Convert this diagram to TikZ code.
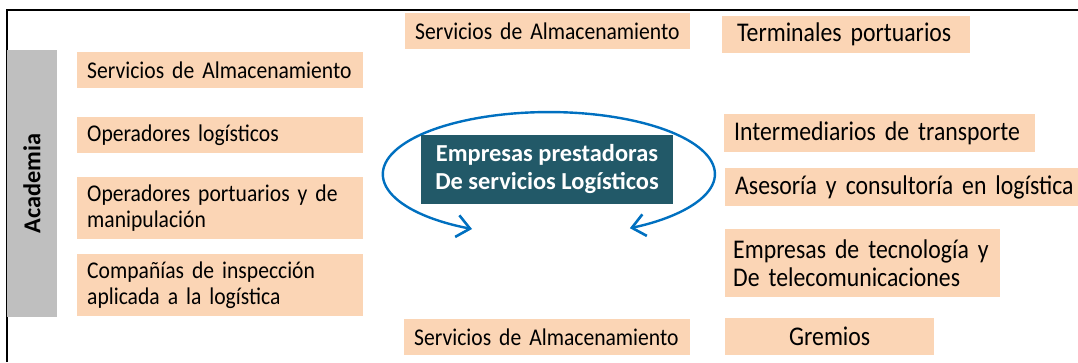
\documentclass[tikz,border=0pt]{standalone}
\usepackage{fontspec}
\setmainfont{Carlito}
\newfontfamily\fuenteizq[FakeStretch=0.9]{Carlito}
\newfontfamily\fuenteder[FakeStretch=0.88]{Carlito}
\usetikzlibrary{arrows.meta, positioning}
\definecolor{durazno}{RGB}{251,213,181}
\definecolor{grisacad}{RGB}{191,191,191}
\definecolor{tealoscuro}{RGB}{34,89,104}
\definecolor{azulflecha}{RGB}{0,112,192}
\tikzset{>=stealth}
\tikzset{caja/.style={fill=durazno, anchor=west, inner xsep=10pt, inner ysep=0pt, align=left, font=\fuenteizq\fontsize{24}{26}\selectfont},
	cajader/.style={caja, font=\fuenteder\fontsize{27}{28}\selectfont},
	flecha/.style={azulflecha, line width=2.4pt, {Straight Barb[length=13pt,width=22pt,line width=2.6pt]}-{Straight Barb[length=13pt,width=22pt,line width=2.6pt]}}}

\begin{document}
\begin{tikzpicture}[x=1pt,y=-1pt]
	\useasboundingbox (0,0) rectangle (1078,362);

	% marco
	\draw [line width=2pt] (7,362) -- (7,10) -- (1078,10);

	% academia
	\node [fill=grisacad, rotate=90, minimum width=267pt, minimum height=50pt, inner sep=0pt, font=\fontsize{24.3}{28}\selectfont\bfseries] (academia) at (32,183.5) {Academia};

	% columna izquierda
	\node [caja, text width=266pt, minimum height=36pt] (almizq) at (77,70) {Servicios de Almacenamiento};
	\node [caja, text width=266pt, minimum height=36pt] (operlog) at (77,135) {Operadores logísticos};
	\node [caja, text width=266pt, minimum height=62pt] (operport) at (77,208) {Operadores portuarios y de\\manipulación};
	\node [caja, text width=266pt, minimum height=62pt] (inspec) at (77,285) {Compañías de inspección\\aplicada a la logística};

	% columna central
	\node [caja, text width=265pt, minimum height=36pt] (almsup) at (405,31) {Servicios de Almacenamiento};
	\node [caja, text width=266pt, minimum height=36pt] (alminf) at (404,337) {Servicios de Almacenamiento};

	\coordinate (flechaizq) at (472,229);
	\draw [flecha] (flechaizq) arc [start angle=117.6, end angle=420.8, x radius=166, y radius=62];

	\node [fill=tealoscuro, text=white, minimum width=252pt, minimum height=69pt, inner sep=0pt, align=center, font=\fontsize{24.4}{28}\selectfont\bfseries] (empresas) at (547,169.5) {Empresas prestadoras\\De servicios Logísticos};

	% columna derecha
	\node [cajader, inner xsep=15pt, text width=218pt, minimum height=37pt] (terminales) at (722,34.5) {Terminales portuarios};
	\node [cajader, text width=291pt, minimum height=38pt] (intermed) at (724,133) {Intermediarios de transporte};
	\node [cajader, text width=343pt, minimum height=38pt] (asesoria) at (725,187) {Asesoría y consultoría en logística};
	\node [cajader, inner xsep=8pt, text width=259pt, minimum height=68pt] (tecno) at (725,263) {Empresas de tecnología y\\De telecomunicaciones};
	\node [cajader, align=center, text width=189pt, minimum height=37pt] (gremios) at (725,336.5) {Gremios};

\end{tikzpicture}
\end{document}
